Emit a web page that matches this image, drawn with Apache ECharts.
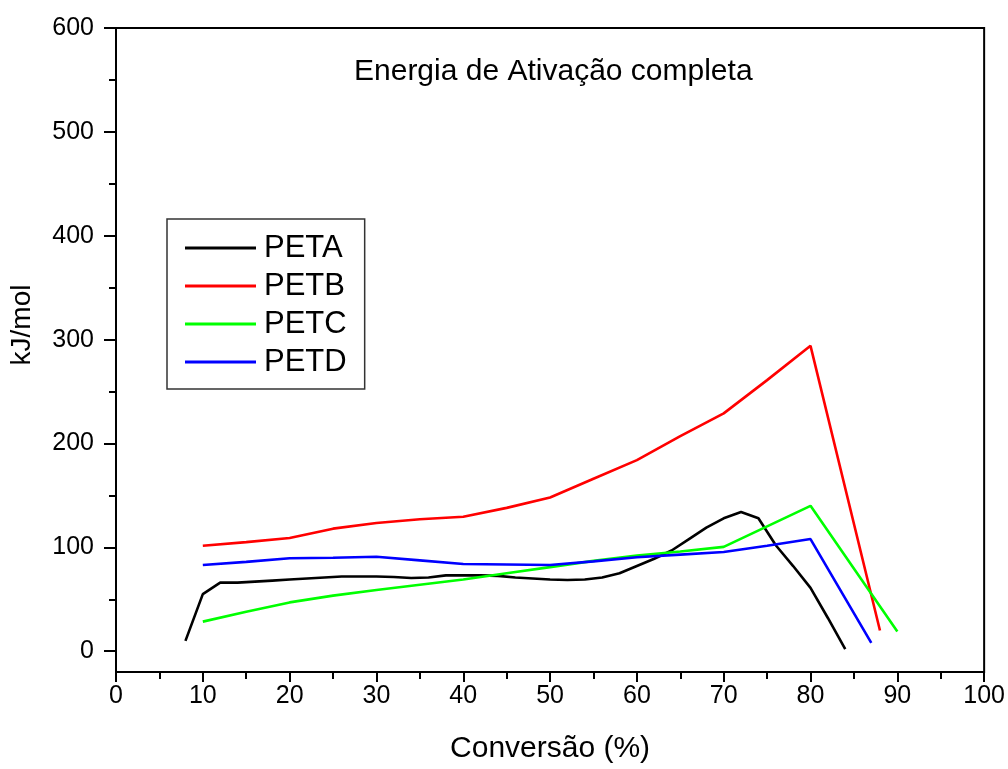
<!DOCTYPE html>
<html>
<head>
<meta charset="utf-8">
<script src="https://cdn.jsdelivr.net/npm/echarts@6/dist/echarts.min.js"></script>
<style>html,body{margin:0;padding:0;background:#fff}#c{width:1008px;height:769px}</style>
</head>
<body>
<div id="c"></div>
<script>
const titleText = 'Energia de Ativação completa';
const xName = 'Conversão (%)';
const yName = 'kJ/mol';
const seriesNames = ['PETA', 'PETB', 'PETC', 'PETD'];
const seriesColors = ['#000000', '#ff0000', '#00ff00', '#0000ff'];

const petaX = [8, 10, 12, 14, 16, 18, 20, 22, 24, 26, 28, 30, 32, 34, 36, 38, 40, 42, 44, 46, 48, 50, 52, 54, 56, 58, 60, 62, 64, 66, 68, 70, 72, 74, 76, 78, 80, 82, 84];
const petaY = [10, 55, 66, 66, 67, 68, 69, 70, 71, 72, 72, 72, 71.5, 70.5, 71, 73, 73, 73, 72.5, 71, 70, 69, 68.5, 69, 71, 75, 82, 89, 97, 108, 119, 128, 134, 128, 102, 82, 61, 32, 2];

const petbX = [10, 15, 20, 25, 30, 35, 40, 45, 50, 55, 60, 65, 70, 75, 80, 88];
const petbY = [101.5, 105, 109, 118, 123.5, 127, 129.5, 138, 148, 166, 184, 207, 229, 261, 294, 20];

const petcX = [10, 15, 20, 25, 30, 35, 40, 45, 50, 55, 60, 65, 70, 80, 90];
const petcY = [28.5, 38, 47, 53.5, 59, 64, 69, 75, 81, 87, 92, 96, 100.5, 140, 19];

const petdX = [10, 15, 20, 25, 30, 35, 40, 45, 50, 55, 60, 65, 70, 75, 80, 87];
const petdY = [83, 86, 89.5, 90, 91, 87.5, 84, 83.5, 83, 86.5, 90.5, 93, 95.5, 101.5, 108, 8];

const xTicks = {min: 0, max: 100, interval: 10};
const yMajorTicks = [0, 100, 200, 300, 400, 500, 600];
const yMinorTicks = [50, 150, 250, 350, 450, 550];
const yRange = {min: -20, max: 600};

const xs = [petaX, petbX, petcX, petdX];
const ys = [petaY, petbY, petcY, petdY];

const FONT = '"Liberation Sans", Arial, sans-serif';

const chart = echarts.init(document.getElementById('c'), null, {renderer: 'canvas'});
chart.setOption({
  backgroundColor: '#ffffff',
  animation: false,
  textStyle: {fontFamily: FONT},
  title: {
    text: titleText,
    left: 354,
    top: 57,
    padding: 0,
    textStyle: {fontFamily: FONT, fontSize: 30, fontWeight: 'normal', color: '#000'}
  },
  grid: {
    left: 116, right: 23, top: 28, bottom: 94,
    show: true, borderColor: '#000', borderWidth: 2, backgroundColor: 'transparent'
  },
  legend: {
    orient: 'vertical',
    left: 167, top: 219,
    padding: [13, 18, 11, 18],
    borderColor: '#333', borderWidth: 1.5,
    itemWidth: 71, itemHeight: 3, itemGap: 6,
    icon: 'rect',
    data: seriesNames,
    textStyle: {fontFamily: FONT, fontSize: 31, color: '#000', lineHeight: 32, padding: [0, 0, 0, 3]}
  },
  xAxis: {
    type: 'value',
    min: xTicks.min, max: xTicks.max, interval: xTicks.interval,
    name: xName, nameLocation: 'middle', nameGap: 62,
    nameTextStyle: {fontFamily: FONT, fontSize: 30, color: '#000'},
    axisLine: {show: true, onZero: false, lineStyle: {color: '#000', width: 2}},
    axisTick: {show: true, inside: false, length: 10, lineStyle: {color: '#000', width: 2}},
    minorTick: {show: true, splitNumber: 2, length: 7, lineStyle: {color: '#000', width: 2}},
    axisLabel: {fontFamily: FONT, fontSize: 25, color: '#000', margin: 12},
    splitLine: {show: false}, minorSplitLine: {show: false}
  },
  yAxis: [{
    type: 'value',
    min: yRange.min, max: yRange.max,
    name: yName, nameLocation: 'middle', nameGap: 80, nameRotate: 90,
    nameTextStyle: {fontFamily: FONT, fontSize: 28, color: '#000', padding: [0, 0, 0, 50]},
    axisLine: {show: true, onZero: false, lineStyle: {color: '#000', width: 2}},
    axisTick: {show: true, inside: false, length: 12, customValues: yMajorTicks, lineStyle: {color: '#000', width: 2}},
    axisLabel: {fontFamily: FONT, fontSize: 25, color: '#000', margin: 22, customValues: yMajorTicks},
    splitLine: {show: false}
  }, {
    type: 'value',
    position: 'left',
    min: yRange.min, max: yRange.max,
    axisLine: {show: false},
    axisTick: {show: true, inside: false, length: 7, customValues: yMinorTicks, lineStyle: {color: '#000', width: 2}},
    axisLabel: {show: false, customValues: yMinorTicks},
    splitLine: {show: false}
  }],
  series: seriesNames.map((n, i) => ({
    name: n,
    type: 'line',
    yAxisIndex: 0,
    symbol: 'none',
    color: seriesColors[i],
    lineStyle: {color: seriesColors[i], width: 2.6},
    data: xs[i].map((x, j) => [x, ys[i][j]])
  }))
});
</script>
</body>
</html>
